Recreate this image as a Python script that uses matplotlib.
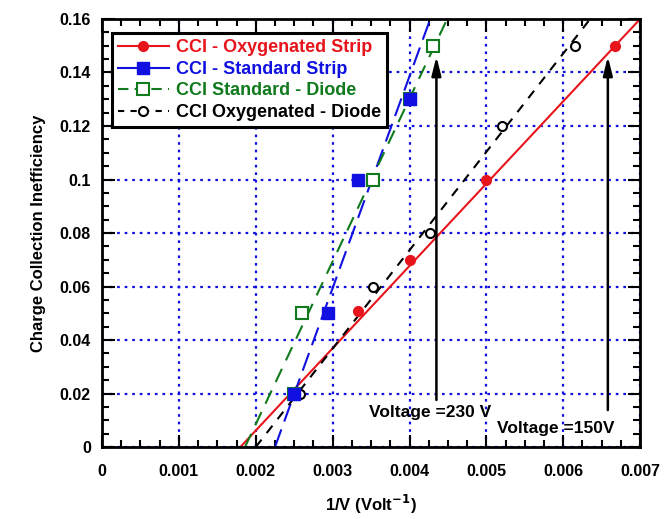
import matplotlib
matplotlib.use("Agg")
import matplotlib.pyplot as plt
from matplotlib.lines import Line2D
from matplotlib.ticker import MultipleLocator, FuncFormatter

plt.rcParams['font.family'] = ['Liberation Sans', 'DejaVu Sans']
plt.rcParams['font.weight'] = 'bold'

# Data
oxy_strip_x = [0.00333, 0.004, 0.005, 0.00667]
oxy_strip_y = [0.051, 0.070, 0.100, 0.150]
std_strip_x = [0.0025, 0.00294, 0.00333, 0.004]
std_strip_y = [0.020, 0.050, 0.100, 0.130]
std_diode_x = [0.0025, 0.0026, 0.00353, 0.004, 0.0043]
std_diode_y = [0.020, 0.050, 0.100, 0.130, 0.150]
oxy_diode_x = [0.00258, 0.00353, 0.00427, 0.0052, 0.00615]
oxy_diode_y = [0.020, 0.060, 0.080, 0.120, 0.150]

# Fit lines (endpoints, data units)
oxy_strip_fit_x = [0.0018, 0.0070]
oxy_strip_fit_y = [0.0, 0.16]
std_strip_fit_x = [0.00225, 0.00427]
std_strip_fit_y = [0.0, 0.16]
std_diode_fit_x = [0.00186, 0.00449]
std_diode_fit_y = [0.0, 0.16]
oxy_diode_fit_x = [0.0020, 0.00635]
oxy_diode_fit_y = [0.0, 0.16]

labels = ["CCI - Oxygenated Strip", "CCI - Standard Strip",
          "CCI Standard - Diode", "CCI Oxygenated - Diode"]

arrow_x = [0.00435, 0.00658]
arrow_y0 = [0.0176, 0.0138]
arrow_y1 = [0.146, 0.146]
arrow_text = ["Voltage =230 V", "Voltage =150V"]
arrow_text_pos = [(0.00427, 0.0128), (0.0059, 0.0068)]

RED = '#e8141b'
BLUE = '#1010e0'
GREEN = '#107a1c'
BLACK = '#000000'

fig = plt.figure(figsize=(6.71, 5.19), dpi=100)
ax = fig.add_axes([0.152, 0.1387, 0.802, 0.8247])

ax.set_xlim(0, 0.007)
ax.set_ylim(0, 0.16)

ax.grid(True, which='major', color=BLUE, linestyle=(0, (1.2, 2.2)), linewidth=1.6, zorder=0)

# fits
ax.plot(oxy_strip_fit_x, oxy_strip_fit_y, color=RED, lw=1.5, zorder=2)
ax.plot(std_strip_fit_x, std_strip_fit_y, color=BLUE, lw=1.5, dashes=(9, 4), zorder=2)
ax.plot(std_diode_fit_x, std_diode_fit_y, color=GREEN, lw=1.5, dashes=(7, 4.5), zorder=2)
ax.plot(oxy_diode_fit_x, oxy_diode_fit_y, color=BLACK, lw=1.5, dashes=(4.5, 4), zorder=2)

# points
ax.plot(std_diode_x, std_diode_y, ls='none', marker='s', ms=8, mfc='white', mec=GREEN, mew=1.5, zorder=3)
ax.plot(oxy_diode_x, oxy_diode_y, ls='none', marker='o', ms=6.5, mfc='white', mec=BLACK, mew=1.5, zorder=3)
ax.plot(std_strip_x, std_strip_y, ls='none', marker='s', ms=9, color=BLUE, zorder=4)
ax.plot(oxy_strip_x, oxy_strip_y, ls='none', marker='o', ms=7, color=RED, zorder=4)

# arrows
for x, y0, y1 in zip(arrow_x, arrow_y0, arrow_y1):
    ax.annotate('', xy=(x, y1), xytext=(x, y0),
                arrowprops=dict(arrowstyle='-|>,head_length=0.8,head_width=0.2', color='black', lw=1.8,
                                mutation_scale=14, shrinkA=0, shrinkB=0), zorder=5)
for t, (tx, ty) in zip(arrow_text, arrow_text_pos):
    ax.text(tx, ty, t, ha='center', va='center', fontsize=12.5, fontweight='bold', zorder=5)

# ticks
ax.xaxis.set_major_locator(MultipleLocator(0.001))
ax.xaxis.set_minor_locator(MultipleLocator(0.00025))
ax.yaxis.set_major_locator(MultipleLocator(0.02))
ax.yaxis.set_minor_locator(MultipleLocator(0.005))
fmt = FuncFormatter(lambda v, p: ('%g' % round(v, 6)))
ax.xaxis.set_major_formatter(fmt)
ax.yaxis.set_major_formatter(fmt)
ax.tick_params(which='both', direction='in', top=True, right=True, width=1.5, labelsize=11.5)
ax.tick_params(which='major', length=9)
ax.tick_params(which='minor', length=5)
ax.tick_params(axis='x', pad=12)
ax.tick_params(axis='y', pad=8)
for s in ax.spines.values():
    s.set_linewidth(2)

ax.set_xlabel('1/V (Volt$^{\\mathbf{-1}}$)', fontsize=12, fontweight='bold', labelpad=10)
ax.set_ylabel('Charge Collection Inefficiency', fontsize=12, fontweight='bold', labelpad=10)

handles = [
    Line2D([], [], color=RED, lw=1.5, marker='o', ms=7),
    Line2D([], [], color=BLUE, lw=1.5, marker='s', ms=9),
    Line2D([], [], color=GREEN, lw=1.5, dashes=(5, 3), marker='s', ms=8, mfc='white', mew=1.5),
    Line2D([], [], color=BLACK, lw=1.5, dashes=(3, 3), marker='o', ms=6.5, mfc='white', mew=1.5),
]
leg = ax.legend(handles, labels, loc='upper left', bbox_to_anchor=(0.018, 0.967),
                borderaxespad=0, fancybox=False, framealpha=1, edgecolor='black',
                handlelength=2.8, handletextpad=0.4, borderpad=0.35, labelspacing=0.25,
                prop={'weight': 'bold', 'size': 13})
leg.get_frame().set_linewidth(2.2)
leg.set_zorder(10)
for txt, c in zip(leg.get_texts(), [RED, BLUE, GREEN, BLACK]):
    txt.set_color(c)

fig.savefig('out.png', dpi=100)
